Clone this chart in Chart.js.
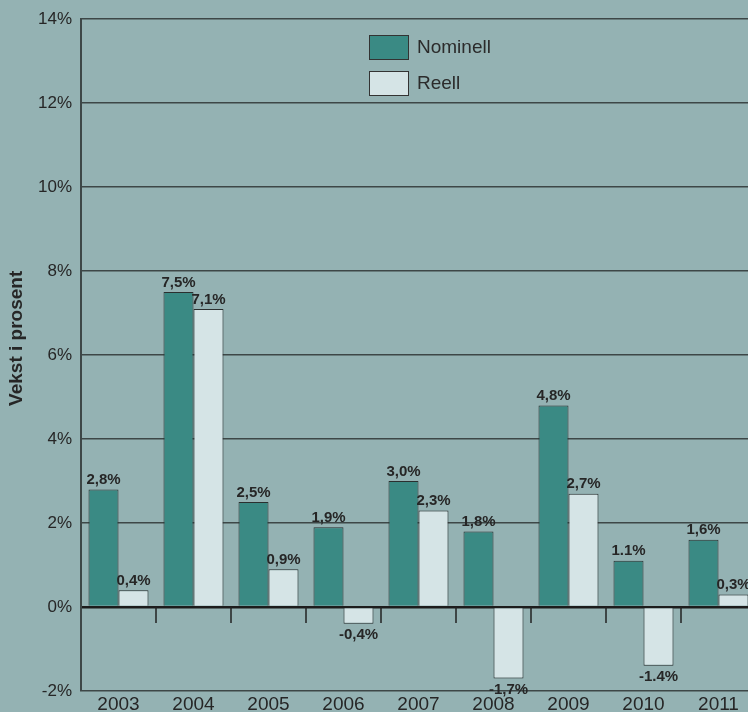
<!DOCTYPE html>
<html>
<head>
<meta charset="utf-8">
<script src="https://cdn.jsdelivr.net/npm/chart.js@4"></script>
<style>
  body { margin: 0; background: #94b2b3; overflow: hidden; }
  #wrap { position: relative; width: 748px; height: 712px; overflow: hidden; }
  #legend { position: absolute; left: 369px; top: 29px; font-family: "Liberation Sans", Arial, sans-serif; font-size: 19px; color: #2b2b2b; }
  .legend-row { display: flex; align-items: center; height: 36px; }
  .legend-color { width: 38px; height: 23px; border: 1px solid #333; margin-right: 8px; }
</style>
</head>
<body>
<div id="wrap">
  <canvas id="chart" width="760" height="712"></canvas>
  <div id="legend"></div>
</div>
<script>
// years on the x axis
const years = ["2003", "2004", "2005", "2006", "2007", "2008", "2009", "2010", "2011"];
// growth in percent
const nominell = [2.8, 7.5, 2.5, 1.9, 3.0, 1.8, 4.8, 1.1, 1.6];
const reell = [0.4, 7.1, 0.9, -0.4, 2.3, -1.7, 2.7, -1.4, 0.3];
// labels as printed on the bars
const nominellLabels = ["2,8%", "7,5%", "2,5%", "1,9%", "3,0%", "1,8%", "4,8%", "1.1%", "1,6%"];
const reellLabels = ["0,4%", "7,1%", "0,9%", "-0,4%", "2,3%", "-1,7%", "2,7%", "-1.4%", "0,3%"];
const yTicks = [-2, 0, 2, 4, 6, 8, 10, 12, 14];

const FONT = '"Liberation Sans", Arial, sans-serif';

// bar value labels
const valueLabels = {
  id: "valueLabels",
  afterDatasetsDraw(chart) {
    const ctx = chart.ctx;
    const texts = [nominellLabels, reellLabels];
    ctx.save();
    ctx.font = "bold 15px " + FONT;
    ctx.fillStyle = "#262626";
    ctx.textAlign = "center";
    chart.data.datasets.forEach((ds, i) => {
      chart.getDatasetMeta(i).data.forEach((bar, j) => {
        if (ds.data[j] >= 0) {
          ctx.textBaseline = "bottom";
          ctx.fillText(texts[i][j], bar.x, bar.y - 2);
        } else {
          ctx.textBaseline = "top";
          ctx.fillText(texts[i][j], bar.x, bar.y + 4);
        }
      });
    });
    ctx.restore();
  },
};

// small ticks hanging below the zero line between the years, plus the axis title
const zeroTicks = {
  id: "zeroTicks",
  afterDraw(chart) {
    const ctx = chart.ctx;
    const x = chart.scales.x;
    const y0 = chart.scales.y.getPixelForValue(0);
    ctx.save();
    ctx.strokeStyle = "#222";
    ctx.lineWidth = 1.5;
    for (let i = 0; i < years.length - 1; i++) {
      const px = (x.getPixelForValue(i) + x.getPixelForValue(i + 1)) / 2;
      ctx.beginPath();
      ctx.moveTo(px, y0);
      ctx.lineTo(px, y0 + 16);
      ctx.stroke();
    }
    // y axis title
    ctx.translate(17, chart.scales.y.getPixelForValue(6.4));
    ctx.rotate(-Math.PI / 2);
    ctx.font = "bold 19px " + FONT;
    ctx.fillStyle = "#262626";
    ctx.textAlign = "center";
    ctx.textBaseline = "middle";
    ctx.fillText("Vekst i prosent", 0, 0);
    ctx.restore();
  },
};

const myChart = new Chart(document.getElementById("chart"), {
  type: "bar",
  data: {
    labels: years,
    datasets: [
      {
        label: "Nominell",
        data: nominell,
        backgroundColor: "#3a8a84",
        borderColor: "#2a2f2f",
        borderWidth: 1,
        categoryPercentage: 0.8,
        barPercentage: 1.0,
      },
      {
        label: "Reell",
        data: reell,
        backgroundColor: "#d5e4e6",
        borderColor: "#2a2f2f",
        borderWidth: 1,
        categoryPercentage: 0.8,
        barPercentage: 1.0,
      },
    ],
  },
  options: {
    responsive: false,
    animation: false,
    layout: { padding: { top: 19, right: 4, left: 0, bottom: 0 } },
    plugins: {
      legend: { display: false },
      tooltip: { enabled: false },
    },
    scales: {
      x: {
        grid: { display: false, drawTicks: false },
        border: { display: false },
        ticks: {
          color: "#262626",
          font: { family: FONT, size: 19 },
          padding: 2,
          maxRotation: 0,
        },
        afterFit: (scale) => { scale.height = 21; },
      },
      y: {
        min: -2,
        max: 14,
        afterBuildTicks: (scale) => { scale.ticks = yTicks.map((v) => ({ value: v })); },
        grid: {
          drawTicks: false,
          color: (c) => (c.tick && c.tick.value === 0 ? "#1c1c1c" : "#3d4747"),
          lineWidth: (c) => (c.tick && c.tick.value === 0 ? 2.5 : 1.5),
        },
        border: { display: true, color: "#3d4747", width: 2 },
        ticks: {
          color: "#262626",
          font: { family: FONT, size: 17 },
          padding: 9,
          callback: (v) => v + "%",
        },
        afterFit: (scale) => { scale.width = 81; },
      },
    },
  },
  plugins: [valueLabels, zeroTicks],
});

// legend built from the datasets
const legendEl = document.getElementById("legend");
myChart.data.datasets.forEach((ds) => {
  const row = document.createElement("div");
  row.className = "legend-row";
  row.innerHTML = `<span class="legend-color" style="background-color: ${ds.backgroundColor};"></span>${ds.label}`;
  legendEl.appendChild(row);
});
</script>
</body>
</html>
